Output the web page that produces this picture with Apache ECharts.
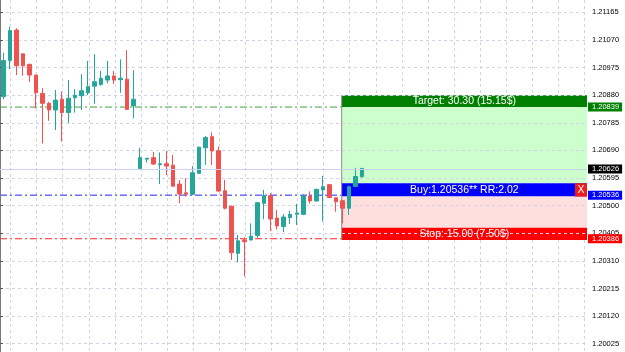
<!DOCTYPE html>
<html><head><meta charset="utf-8">
<script src="https://cdn.jsdelivr.net/npm/echarts@6/dist/echarts.min.js"></script>
<style>html,body{margin:0;padding:0;background:#fff}#c{width:625px;height:352px}</style>
</head><body><div id="c"></div>
<script>
// ---- data ----
const priceTicks = [1.20025,1.20120,1.20215,1.20310,1.20405,1.20500,1.20595,1.20690,1.20785,1.20880,1.20975,1.21070,1.21165];
const candleOpen = [1.20875,1.20999,1.21104,1.21022,1.20986,1.20949,1.20886,1.20852,1.20829,1.20866,1.20820,1.20871,1.20878,1.20888,1.20911,1.20917,1.20932,1.20946,1.20933,1.20935,1.20843,1.20628,1.20660,1.20665,1.20641,1.20644,1.20639,1.20574,1.20544,1.20539,1.20611,1.20699,1.20737,1.20689,1.20551,1.20498,1.20336,1.20382,1.20382,1.20397,1.20508,1.20534,1.20457,1.20428,1.20459,1.20470,1.20470,1.20533,1.20516,1.20554,1.20572,1.20527,1.20517,1.20491,1.20566,1.20599];
const candleClose = [1.20999,1.21102,1.20981,1.20981,1.20949,1.20888,1.20852,1.20829,1.20863,1.20820,1.20869,1.20880,1.20895,1.20909,1.20926,1.20938,1.20946,1.20932,1.20938,1.20831,1.20866,1.20665,1.20663,1.20643,1.20644,1.20636,1.20567,1.20540,1.20539,1.20613,1.20701,1.20734,1.20688,1.20550,1.20491,1.20338,1.20379,1.20376,1.20395,1.20510,1.20534,1.20454,1.20430,1.20461,1.20470,1.20474,1.20533,1.20516,1.20556,1.20565,1.20528,1.20513,1.20491,1.20565,1.20600,1.20628];
const candleLow = [1.20866,1.20970,1.20949,1.20947,1.20926,1.20835,1.20714,1.20792,1.20760,1.20720,1.20785,1.20820,1.20829,1.20880,1.20850,1.20912,1.20921,1.20918,1.20888,1.20829,1.20800,1.20625,1.20648,1.20640,1.20574,1.20605,1.20565,1.20508,1.20531,1.20536,1.20609,1.20640,1.20640,1.20548,1.20487,1.20313,1.20304,1.20256,1.20380,1.20390,1.20453,1.20412,1.20418,1.20409,1.20437,1.20433,1.20468,1.20507,1.20514,1.20445,1.20526,1.20479,1.20439,1.20468,1.20565,1.20597];
const candleHigh = [1.21026,1.21115,1.21110,1.21024,1.20988,1.20950,1.20904,1.20857,1.20898,1.20892,1.20932,1.20901,1.20952,1.20998,1.21021,1.20963,1.20998,1.20963,1.21003,1.21035,1.20966,1.20699,1.20664,1.20685,1.20683,1.20688,1.20674,1.20588,1.20594,1.20636,1.20703,1.20740,1.20752,1.20703,1.20588,1.20500,1.20399,1.20391,1.20439,1.20512,1.20554,1.20543,1.20485,1.20471,1.20483,1.20506,1.20540,1.20549,1.20558,1.20602,1.20574,1.20528,1.20518,1.20569,1.20630,1.20629];
const slotCount = 90;
const categories = Array.from({length: slotCount}, (_, i) => String(i));
const gridSlots = [1.62,5.62,9.62,13.62,17.62,21.62,25.62,29.62,33.62,37.62,41.62,45.62,49.62,53.62,57.62,61.62,65.62,69.62,73.62,77.62,81.62,85.62,89.62];
const priceRange = [1.1999645, 1.2120731];

const targetPrice = 1.20839, entryPrice = 1.20536, stopPrice = 1.20386, lastPrice = 1.20626;
const boxStartSlot = 52.39, closeBtnSlot = 88.16;
const bandLevels = [1.20880, 1.20839, 1.20577, 1.20531, 1.20424, 1.20382];
const targetText = 'Target: 30.30 (15.15$)';
const buyText = 'Buy:1.20536** RR:2.02';
const stopText = 'Stop: 15.00 (7.50$)';

// ---- chart ----
const FONT = "'Liberation Sans', Arial, sans-serif";
const chart = echarts.init(document.getElementById('c'), null, {renderer: 'canvas'});
const fmt = v => Number(v).toFixed(5);
const gridLine = {show: true, lineStyle: {color: '#d2d2ec', width: 1, type: [3, 3]}};

function band(top, bottom, color, text, x0, x1) {
  return [{coord: [x0, top], itemStyle: {color: color},
           label: {show: !!text, formatter: text || '', position: 'inside', color: '#fff',
                   fontSize: 10.5, fontFamily: FONT}},
          {coord: [x1, bottom]}];
}
function segmentSeries(name, pts, color, type, z) {
  return {name: name, type: 'line', xAxisIndex: 1, yAxisIndex: 0, z: z, silent: true,
    data: pts, showSymbol: false, symbol: 'none', animation: false,
    lineStyle: {color: color, type: type, width: 1}, itemStyle: {color: color}};
}
function tagSeries(name, v, bg, lineColor) {
  return {name: name, type: 'line', xAxisIndex: 1, yAxisIndex: 0, data: [], z: 5, silent: true,
    markLine: {silent: true, symbol: ['none', 'none'], animation: false,
      lineStyle: {color: lineColor, type: 'solid', width: 1},
      label: {show: true, position: 'end', distance: 1, formatter: fmt(v), color: '#fff',
              backgroundColor: bg, fontSize: 7.5, fontFamily: FONT, lineHeight: 8,
              padding: [1, 3, 0, 4]},
      data: [[{coord: [0, v]}, {coord: [slotCount, v]}]]}};
}

const option = {
  animation: false,
  backgroundColor: '#fff',
  grid: {left: 0, right: 38, top: 0, bottom: 0},
  xAxis: [
    {type: 'category', data: categories, boundaryGap: true, show: true,
     axisLine: {show: false}, axisTick: {show: false}, axisLabel: {show: false}, splitLine: {show: false}},
    {type: 'value', min: 0, max: slotCount, show: true, z: 0,
     axisLine: {show: false}, axisLabel: {show: false},
     axisTick: {show: false, customValues: gridSlots}, splitLine: gridLine}
  ],
  yAxis: [{
    type: 'value', position: 'right', min: priceRange[0], max: priceRange[1], z: 3,
    axisLine: {show: true, lineStyle: {color: '#7a7a7a', width: 1}},
    axisTick: {show: true, length: 3, customValues: priceTicks, lineStyle: {color: '#555'}},
    axisLabel: {show: true, customValues: priceTicks, formatter: fmt, margin: 5,
                color: '#000', fontSize: 7.5, fontFamily: FONT},
    splitLine: gridLine
  }],
  series: [
    segmentSeries('target', [[0, targetPrice], [boxStartSlot, targetPrice]], '#3ea33e', [7, 3, 2, 3], 1),
    segmentSeries('entry', [[0, entryPrice], [boxStartSlot, entryPrice]], '#2323ff', [7, 3, 2, 3], 1),
    segmentSeries('stop', [[0, stopPrice], [boxStartSlot, stopPrice]], '#ff2424', [7, 3, 2, 3], 1),
    {name: 'boxes', type: 'line', xAxisIndex: 1, yAxisIndex: 0, data: [], z: 2, silent: true,
     markArea: {silent: true, animation: false,
       data: [band(bandLevels[0], bandLevels[1], '#008000', targetText, boxStartSlot, slotCount),
              band(bandLevels[1], bandLevels[2], '#ccffcc', '', boxStartSlot, slotCount),
              band(bandLevels[2], bandLevels[3], '#0000ff', buyText, boxStartSlot, slotCount),
              band(bandLevels[3], bandLevels[4], '#ffdede', '', boxStartSlot, slotCount),
              band(bandLevels[4], bandLevels[5], '#ff0000', stopText, boxStartSlot, slotCount),
              band(bandLevels[2], bandLevels[3], '#ee1c1c', 'X', closeBtnSlot, slotCount)]}},
    segmentSeries('boxEdge', [[boxStartSlot, bandLevels[0]], [boxStartSlot, bandLevels[5]]], '#8a8a8a', 'solid', 3),
    {name: 'candles', type: 'candlestick', xAxisIndex: 0, yAxisIndex: 0, z: 4, barWidth: 4,
     data: candleOpen.map((o, i) => [o, candleClose[i], candleLow[i], candleHigh[i]]),
     itemStyle: {color: '#26a69a', color0: '#ef5350', borderColor: '#26a69a', borderColor0: '#ef5350', borderWidth: 1}},
    tagSeries('last', lastPrice, '#000', '#cfcff0'),
    tagSeries('targetTag', targetPrice, '#008000', 'rgba(0,0,0,0)'),
    tagSeries('entryTag', entryPrice, '#0000ff', 'rgba(0,0,0,0)'),
    tagSeries('stopTag', stopPrice, '#ff0000', 'rgba(0,0,0,0)')
  ]
};
chart.setOption(option);
</script></body></html>
